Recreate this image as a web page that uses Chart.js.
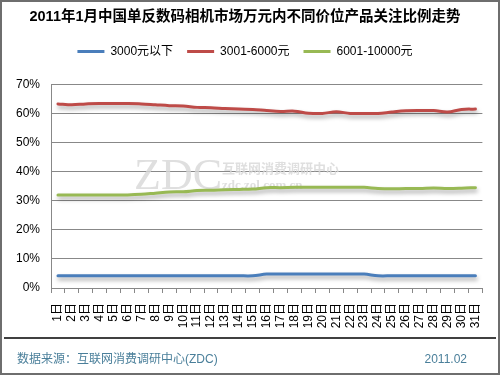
<!DOCTYPE html>
<html>
<head>
<meta charset="utf-8">
<script src="https://cdn.jsdelivr.net/npm/chart.js@4/dist/chart.umd.min.js"></script>
<style>
  html, body { margin: 0; padding: 0; background: #fff; }
  #wrap { width: 500px; height: 375px; }
</style>
</head>
<body>
<div id="wrap"><canvas id="trendChart" width="500" height="375"></canvas></div>
<script>
// 日期
var days = ["1日","2日","3日","4日","5日","6日","7日","8日","9日","10日","11日","12日","13日","14日","15日","16日",
            "17日","18日","19日","20日","21日","22日","23日","24日","25日","26日","27日","28日","29日","30日","31日"];
// 各价位关注比例 (%)
var below3000 = [4.2,4.2,4.2,4.2,4.2,4.2,4.2,4.2,4.2,4.2,4.2,4.2,4.2,4.2,4.2,4.8,
                 4.8,4.8,4.8,4.8,4.8,4.8,4.8,4.2,4.2,4.2,4.2,4.2,4.2,4.2,4.2];
var from3001 = [63.3,63.0,63.3,63.4,63.4,63.4,63.3,63.0,62.7,62.6,62.1,62.0,61.7,61.5,61.4,61.0,
                60.7,60.8,60.1,60.0,60.6,60.0,60.0,60.0,60.5,60.9,61.0,61.0,60.5,61.4,61.5];
var from6001 = [32.0,32.0,32.0,32.0,32.0,32.0,32.2,32.6,33.0,33.1,33.5,33.6,33.8,33.9,34.0,34.5,
                34.5,34.6,34.6,34.6,34.6,34.6,34.6,34.2,34.1,34.2,34.2,34.4,34.2,34.3,34.5];
var seriesNames = ["3000元以下", "3001-6000元", "6001-10000元"];
var yTicks = [0, 10, 20, 30, 40, 50, 60, 70];

var FONT = "'Liberation Sans', Arial, 'Noto Sans CJK SC', sans-serif";

// 图例下方留白
var legendGap = {
    id: 'legendGap',
    beforeInit: function(chart) {
        var box = {
            position: 'top', weight: 500, fullSize: true, options: {},
            top: 0, left: 0, right: 0, bottom: 0, width: 0, height: 0,
            isHorizontal: function() { return true; },
            update: function(maxWidth) { this.width = maxWidth; this.height = 17; },
            draw: function() {}
        };
        Chart.layouts.addBox(chart, box);
    }
};

// 水印 + 线条阴影
var lineShadow = {
    id: 'lineShadow',
    beforeDatasetsDraw: function(chart) {
        var c = chart.ctx;
        c.save();
        c.fillStyle = 'rgba(215,215,215,0.8)';
        c.font = "44px 'Liberation Serif', serif";
        c.textBaseline = 'alphabetic';
        c.fillText('ZDC', 134, 189);
        c.font = "bold 13px 'Noto Sans CJK SC', sans-serif";
        c.fillText('互联网消费调研中心', 222, 173);
        c.font = "bold 13px 'Liberation Serif', serif";
        c.fillText('zdc.zol.com.cn', 222, 189);
        c.restore();

        c.save();
        c.shadowColor = 'rgba(0,0,0,0.35)';
        c.shadowBlur = 4;
        c.shadowOffsetX = 1;
        c.shadowOffsetY = 3;
    },
    afterDatasetsDraw: function(chart) {
        chart.ctx.restore();
    }
};

// 外框和来源
var frameFooter = {
    id: 'frameFooter',
    afterDraw: function(chart) {
        var c = chart.ctx;
        c.save();
        c.strokeStyle = '#6e6e6e';
        c.lineWidth = 2;
        c.strokeRect(1, 1, 498, 373);
        c.strokeStyle = '#000';
        c.lineWidth = 1.5;
        c.beginPath();
        c.moveTo(4, 338);
        c.lineTo(496, 338);
        c.stroke();
        c.fillStyle = '#4a7f9a';
        c.font = "12px " + FONT;
        c.textBaseline = 'middle';
        c.textAlign = 'left';
        c.fillText('数据来源：互联网消费调研中心(ZDC)', 17, 360);
        c.textAlign = 'right';
        c.fillText('2011.02', 467, 360);
        c.restore();
    }
};

var ctx = document.getElementById('trendChart').getContext('2d');
var trendChart = new Chart(ctx, {
    type: 'line',
    data: {
        labels: days,
        datasets: [
            { label: seriesNames[0], data: below3000, borderColor: '#4a7ebb', backgroundColor: '#4a7ebb', borderWidth: 3 },
            { label: seriesNames[1], data: from3001, borderColor: '#be4b48', backgroundColor: '#be4b48', borderWidth: 3 },
            { label: seriesNames[2], data: from6001, borderColor: '#98b954', backgroundColor: '#98b954', borderWidth: 3 }
        ]
    },
    options: {
        responsive: false,
        animation: false,
        layout: { padding: { left: 0, right: 10, top: 0, bottom: 0 } },
        elements: {
            point: { radius: 0 },
            line: { tension: 0.35, borderCapStyle: 'round' }
        },
        plugins: {
            title: {
                display: true,
                text: '2011年1月中国单反数码相机市场万元内不同价位产品关注比例走势',
                color: '#000',
                font: { family: FONT, size: 14.5, weight: 'bold' },
                padding: { top: 8, bottom: 6 }
            },
            legend: {
                labels: {
                    usePointStyle: true,
                    pointStyle: 'line',
                    pointStyleWidth: 27,
                    color: '#000',
                    font: { family: FONT, size: 12 },
                    padding: 14
                }
            },
            tooltip: { enabled: false }
        },
        scales: {
            x: {
                offset: true,
                afterFit: function(s) { s.height = 87; },
                grid: { offset: true, drawOnChartArea: false, drawTicks: true, tickLength: 5, color: '#888' },
                border: { color: '#888' },
                ticks: { autoSkip: false, minRotation: 90, maxRotation: 90, padding: 10, color: '#000',
                         font: { family: FONT, size: 12 } }
            },
            y: {
                min: 0,
                max: 70,
                afterFit: function(s) { s.width = 51; },
                afterBuildTicks: function(s) { s.ticks = yTicks.map(function(v) { return { value: v }; }); },
                grid: { color: '#888', drawTicks: false },
                border: { color: '#888' },
                ticks: { padding: 11, color: '#000', font: { family: FONT, size: 12 },
                         callback: function(v) { return v + '%'; } }
            }
        }
    },
    plugins: [legendGap, lineShadow, frameFooter]
});
</script>
</body>
</html>
